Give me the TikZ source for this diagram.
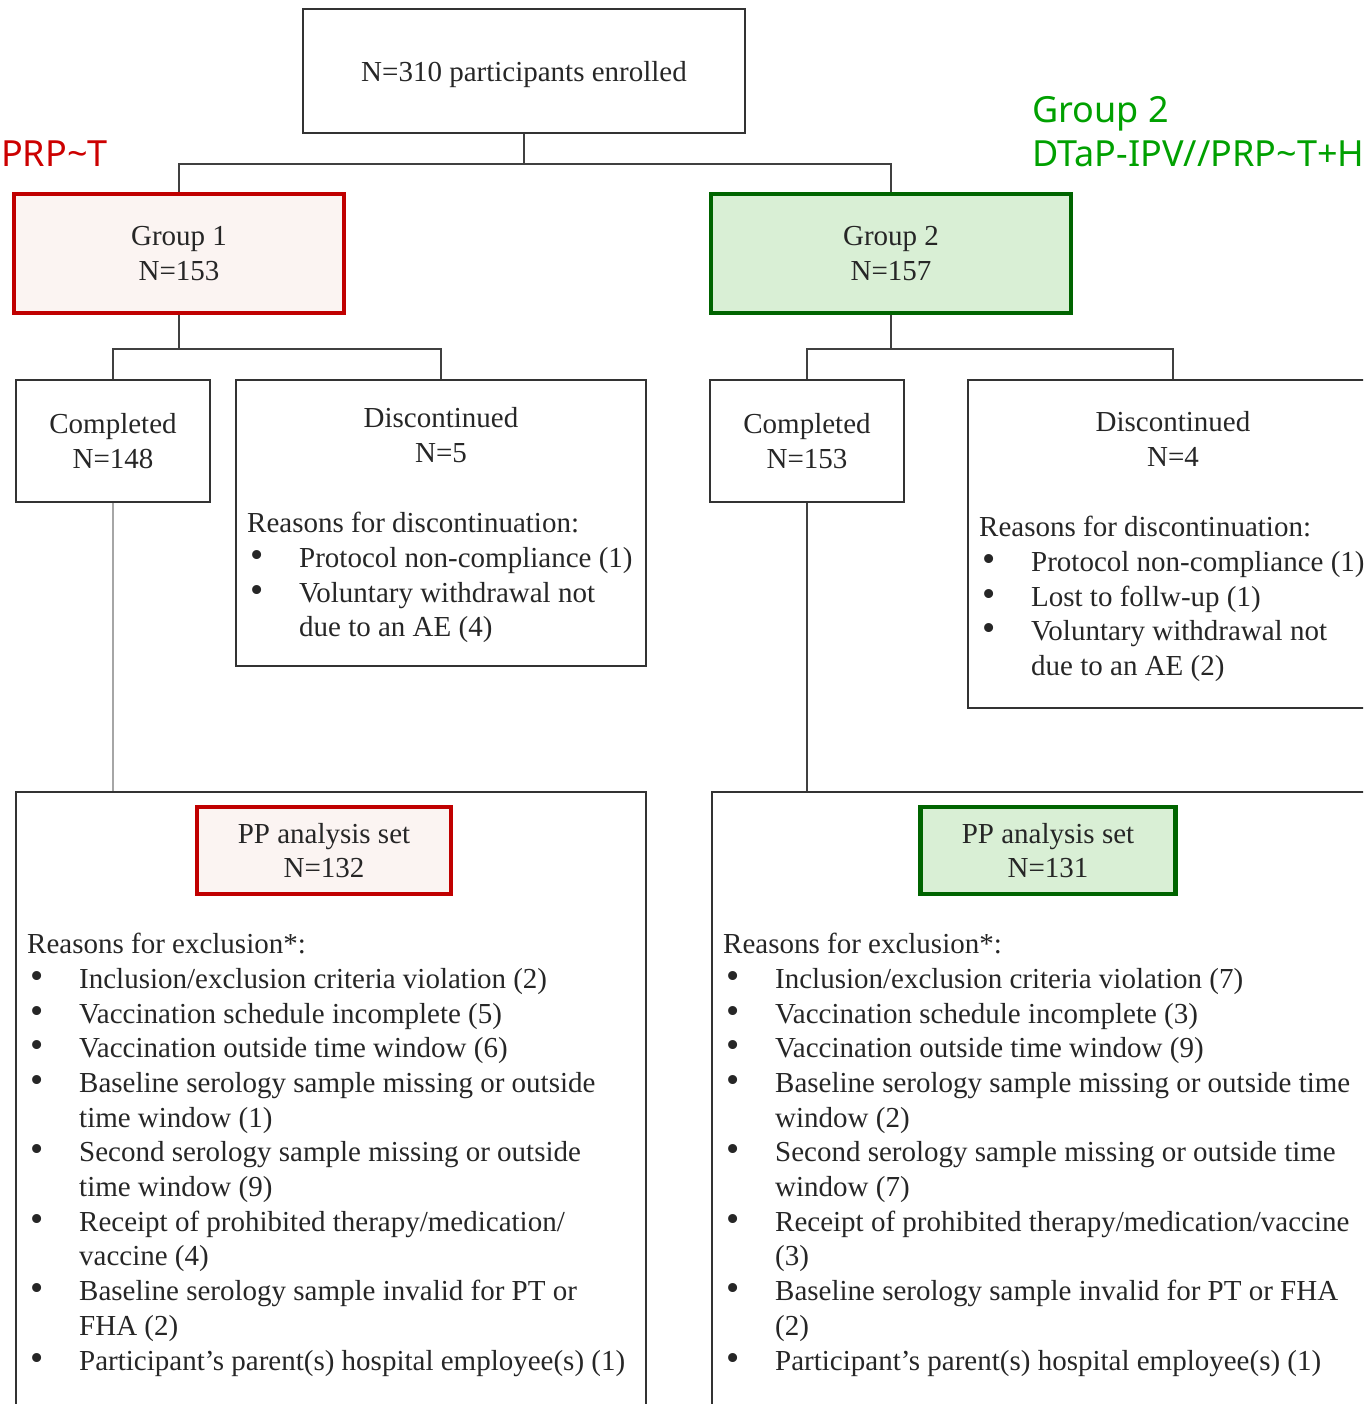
\documentclass[tikz,border=0pt]{standalone}
\usepackage{fontspec}
\setmainfont{Liberation Serif}
\newfontfamily\armfont{Noto Sans}
\usetikzlibrary{positioning}

\definecolor{grpred}{RGB}{192,0,0}
\definecolor{grpredfill}{RGB}{251,244,242}
\definecolor{grpgreen}{RGB}{0,100,0}
\definecolor{grpgreenfill}{RGB}{217,239,213}
\definecolor{armred}{RGB}{204,0,0}
\definecolor{armgreen}{RGB}{0,160,0}

\newcommand{\bodysize}{\fontsize{29}{34.7}\selectfont}
\newcommand{\bulitem}{\makebox[52pt][l]{\hspace{3pt}\scalebox{1.3}{\textbullet}}}
\newcommand{\contline}{\hspace*{52pt}}

\begin{document}
\begin{tikzpicture}[
    x=1pt, y=-1pt,
    box/.style={
        rectangle,
        draw=black!80,
        line width=1.8pt,
        align=center,
        font=\bodysize,
        text=black!85
    },
    redbox/.style={box, draw=grpred, line width=4.5pt, fill=grpredfill},
    greenbox/.style={box, draw=grpgreen, line width=4.5pt, fill=grpgreenfill},
    headtext/.style={inner sep=0pt, align=center, font=\bodysize, text=black!85},
    listtext/.style={anchor=north west, inner sep=0pt, align=left, font=\bodysize, text=black!85},
    armlabel/.style={inner sep=0pt, font=\armfont\fontsize{36}{44}\selectfont},
    link/.style={draw=black!75, line width=1.8pt}
]
\useasboundingbox (0,0) rectangle (1363,1404);
\clip (0,0) rectangle (1363,1404);

% enrolment and groups
\node[box, minimum width=442pt, minimum height=124pt, text depth=0pt] (enrol) at (524,71) {N=310 participants enrolled};
\node[redbox, minimum width=330pt, minimum height=119pt] (grp1) at (179,253.5) {Group 1\\N=153};
\node[greenbox, minimum width=360pt, minimum height=119pt] (grp2) at (891,253.5) {Group 2\\N=157};

\node[armlabel, text=armred, anchor=base west] (arm1) at (1,167) {PRP\textasciitilde T};
\node[armlabel, text=armgreen, anchor=base west] (arm2) at (1032,123) {Group 2};
\node[armlabel, text=armgreen, anchor=base west] (arm2vac) at (1032,167) {DTaP-IPV//PRP\textasciitilde T+H};

% group 1 outcome
\node[box, minimum width=194pt, minimum height=122pt] (comp1) at (113,441) {Completed\\N=148};
\node[box, minimum width=410pt, minimum height=286pt] (disc1) at (441,523) {};
\node[headtext] (disc1head) at (441,435) {Discontinued\\N=5};
\node[listtext] (disc1why) at (247,512) {Reasons for discontinuation:\\
\bulitem Protocol non-compliance (1)\\
\bulitem Voluntary withdrawal not\\
\contline due to an AE (4)};

% group 2 outcome
\node[box, minimum width=194pt, minimum height=122pt] (comp2) at (807,441) {Completed\\N=153};
\node[box, minimum width=410pt, minimum height=328pt] (disc2) at (1173,544) {};
\node[headtext] (disc2head) at (1173,439) {Discontinued\\N=4};
\node[listtext] (disc2why) at (979,516) {Reasons for discontinuation:\\
\bulitem Protocol non-compliance (1)\\
\bulitem Lost to follw-up (1)\\
\bulitem Voluntary withdrawal not\\
\contline due to an AE (2)};

% per-protocol sets
\node[box, minimum width=630pt, minimum height=638pt] (pp1) at (331,1111) {};
\node[redbox, minimum width=254pt, minimum height=87pt] (pp1set) at (324,850.5) {PP analysis set\\N=132};
\node[listtext] (pp1why) at (27,933) {Reasons for exclusion*:\\
\bulitem Inclusion/exclusion criteria violation (2)\\
\bulitem Vaccination schedule incomplete (5)\\
\bulitem Vaccination outside time window (6)\\
\bulitem Baseline serology sample missing or outside\\
\contline time window (1)\\
\bulitem Second serology sample missing or outside\\
\contline time window (9)\\
\bulitem Receipt of prohibited therapy/medication/\\
\contline vaccine (4)\\
\bulitem Baseline serology sample invalid for PT or\\
\contline FHA (2)\\
\bulitem Participant’s parent(s) hospital employee(s) (1)};

\node[box, minimum width=688pt, minimum height=638pt] (pp2) at (1056,1111) {};
\node[greenbox, minimum width=255pt, minimum height=87pt] (pp2set) at (1048,850.5) {PP analysis set\\N=131};
\node[listtext] (pp2why) at (723,933) {Reasons for exclusion*:\\
\bulitem Inclusion/exclusion criteria violation (7)\\
\bulitem Vaccination schedule incomplete (3)\\
\bulitem Vaccination outside time window (9)\\
\bulitem Baseline serology sample missing or outside time\\
\contline window (2)\\
\bulitem Second serology sample missing or outside time\\
\contline window (7)\\
\bulitem Receipt of prohibited therapy/medication/vaccine\\
\contline (3)\\
\bulitem Baseline serology sample invalid for PT or FHA\\
\contline (2)\\
\bulitem Participant’s parent(s) hospital employee(s) (1)};

% connectors
\draw[link] (enrol.south) -- ++(0,30) -| (grp1.north);
\draw[link] (enrol.south) -- ++(0,30) -| (grp2.north);
\draw[link] (grp1.south) -- ++(0,34) -| (comp1.north);
\draw[link] (grp1.south) -- ++(0,34) -| (disc1.north);
\draw[link] (grp2.south) -- ++(0,34) -| (comp2.north);
\draw[link] (grp2.south) -- ++(0,34) -| (disc2.north);
\draw[link, draw=black!35] (comp1.south) -- (comp1.south |- pp1.north);
\draw[link] (comp2.south) -- (comp2.south |- pp2.north);

\end{tikzpicture}
\end{document}
